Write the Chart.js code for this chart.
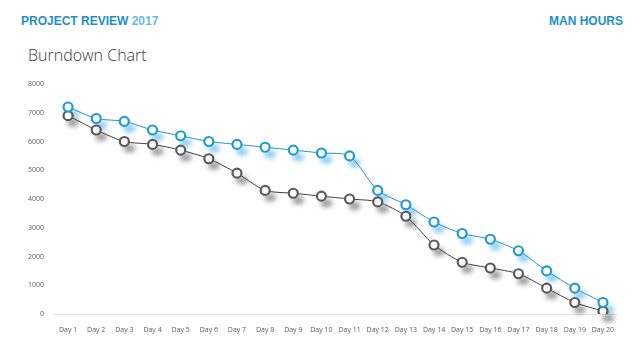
<!DOCTYPE html>
<html>
<head>
<meta charset="utf-8">
<script src="https://cdn.jsdelivr.net/npm/chart.js"></script>
<style>
  body { margin: 0; width: 640px; height: 360px; background: #fff; overflow: hidden; position: relative; }
  #chart { position: absolute; left: 0; top: 0; }
  .head { position: absolute; top: 14px; font-family: "Liberation Sans", Arial, sans-serif; font-weight: bold; font-size: 12px; color: #1d90c8; }
  .head .yr { color: #6db7de; }
  #title { position: absolute; left: 28px; top: 44px; font-family: "Open Sans", sans-serif; font-weight: 300; font-size: 16px; color: #3a3a3a; }
</style>
</head>
<body>
<div class="head" style="left:21px">PROJECT REVIEW <span class="yr">2017</span></div>
<div class="head" style="right:17px">MAN HOURS</div>
<div id="title">Burndown Chart</div>
<canvas id="chart" width="640" height="360"></canvas>
<script>
const days = ['Day 1', 'Day 2', 'Day 3', 'Day 4', 'Day 5', 'Day 6', 'Day 7', 'Day 8', 'Day 9', 'Day 10',
  'Day 11', 'Day 12', 'Day 13', 'Day 14', 'Day 15', 'Day 16', 'Day 17', 'Day 18', 'Day 19', 'Day 20'];
const planned = [7200, 6800, 6700, 6400, 6200, 6000, 5900, 5800, 5700, 5600,
  5500, 4300, 3800, 3200, 2800, 2600, 2200, 1500, 900, 400];
const actual = [6900, 6400, 6000, 5900, 5700, 5400, 4900, 4300, 4200, 4100,
  4000, 3900, 3400, 2400, 1800, 1600, 1400, 900, 400, 100];

// soft blurred shadow under each marker
const shadowPlugin = {
  id: 'markerShadow',
  beforeDatasetsDraw(chart) {
    const ctx = chart.ctx;
    const shades = ['rgba(40,160,225,0.55)', 'rgba(70,70,70,0.55)'];
    chart.data.datasets.forEach((ds, i) => {
      const meta = chart.getDatasetMeta(i);
      ctx.save();
      ctx.filter = 'blur(2.5px)';
      ctx.fillStyle = shades[i];
      meta.data.forEach(pt => {
        ctx.beginPath();
        ctx.ellipse(pt.x + 5, pt.y + 7, 6, 4, 0, 0, Math.PI * 2);
        ctx.fill();
      });
      ctx.restore();
    });
  }
};

new Chart(document.getElementById('chart'), {
  type: 'line',
  data: {
    labels: days,
    datasets: [
      {
        label: 'Planned',
        data: planned,
        borderColor: '#2b90c2',
        borderWidth: 1,
        tension: 0.25,
        pointRadius: 4.5,
        pointBorderWidth: 2.2,
        pointBorderColor: '#1e9bd7',
        pointBackgroundColor: '#fff'
      },
      {
        label: 'Actual',
        data: actual,
        borderColor: '#404040',
        borderWidth: 1,
        tension: 0.25,
        pointRadius: 4.5,
        pointBorderWidth: 2.2,
        pointBorderColor: '#5a5a5a',
        pointBackgroundColor: '#fff'
      }
    ]
  },
  options: {
    responsive: false,
    animation: false,
    layout: { padding: { left: 14, right: 23, top: 84, bottom: 26 } },
    plugins: { legend: { display: false }, tooltip: { enabled: false } },
    scales: {
      x: {
        offset: true,
        grid: { display: false },
        border: { display: false },
        ticks: { color: '#595959', font: { family: 'Open Sans', size: 7 }, padding: 4, maxRotation: 0, autoSkip: false },
        afterFit: s => { s.height = 20; }
      },
      y: {
        min: 0,
        max: 8000,
        grid: {
          drawTicks: false,
          color: ctx => ctx.tick.value === 0 ? '#e3e3e3' : 'rgba(0,0,0,0)'
        },
        border: { display: false },
        ticks: {
          stepSize: 1000,
          color: '#595959',
          font: { family: 'Open Sans', size: 7 },
          padding: 10,
          callback: v => String(v)
        },
        afterFit: s => { s.width = 40; }
      }
    }
  },
  plugins: [shadowPlugin]
});
</script>
</body>
</html>
